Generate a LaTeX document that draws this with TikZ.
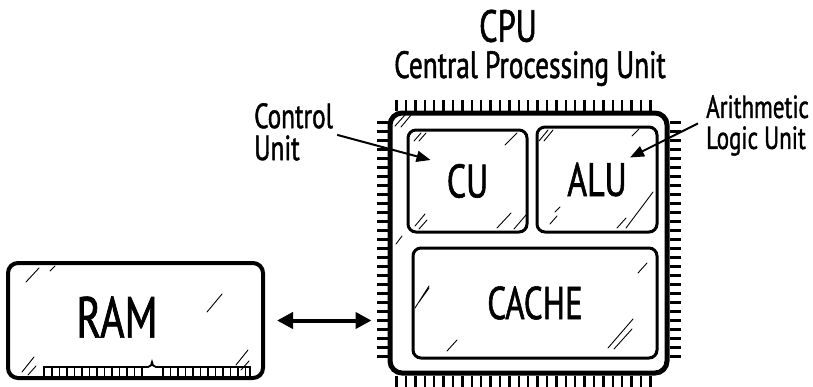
\documentclass[tikz,border=0pt]{standalone}
\usepackage{fontspec}
\setmainfont[FakeStretch=0.72,FakeBold=1.2]{PT Sans}
\usetikzlibrary{arrows.meta,positioning,calc}
\newcommand{\fsz}[2]{\fontsize{#1}{#2}\selectfont}

\begin{document}
\begin{tikzpicture}[x=1pt,y=-1pt,
  box/.style={draw,rounded corners=8pt,line width=3pt,inner sep=0pt},
  hatch/.style={line width=0.9pt,line cap=round},
  pin/.style={line width=2.4pt},
  lbl/.style={inner sep=0pt,align=left}]
\useasboundingbox (0,0) rectangle (813,386);
% boxes
\node[box,line width=5pt,rounded corners=12pt,minimum width=277pt,minimum height=260pt] (cpu) at (528.5,243) {};
\node[box,minimum width=119pt,minimum height=102pt,font=\fsz{47}{50}] (cu) at (467.5,181) {CU};
\node[box,minimum width=120pt,minimum height=105pt,font=\fsz{47}{50}] (alu) at (597,179.5) {ALU};
\node[box,minimum width=244pt,minimum height=110pt,font=\fsz{46}{50}] (cache) at (535,303) {CACHE};
\node[box,line width=4pt,rounded corners=10pt,minimum width=255pt,minimum height=115pt] (ram) at (135.5,320.5) {};
\node[inner sep=0pt,font=\fsz{58}{60}] (ramtxt) at (117,317) {RAM};
% pins of the cpu
\foreach \i in {0,...,27} {
  \draw[pin] ($(cpu.north west)+(9+9.4*\i,0)$) -- ++(0,-11);
  \draw[pin] ($(cpu.south west)+(9+9.4*\i,0)$) -- ++(0,11);
}
\foreach \i in {0,...,26} {
  \draw[pin] ($(cpu.north west)+(0,12+9*\i)$) -- ++(-11,0);
  \draw[pin] ($(cpu.north east)+(0,12+9*\i)$) -- ++(11,0);
}
% contacts of the ram
\draw[line width=1.8pt] (44,377) -- (44,367) -- (148,367) to[out=0,in=-90] (152,362) to[out=-90,in=180] (156,367) -- (250,367) -- (250,377);
\foreach \i in {0,...,12} {\draw[line width=1.5pt] (52+7.5*\i,367) -- ++(0,10);}
\foreach \i in {0,...,11} {\draw[line width=1.5pt] (163+7.5*\i,367) -- ++(0,10);}
% titles
\node[lbl,font=\fsz{45}{45}] (cputitle) at (508,26) {CPU};
\node[lbl,anchor=base,font=\fsz{38}{40}] (cpuname) at (530,78) {Central Processing Unit};
\node[lbl,anchor=north west,font=\fsz{35}{32}] (ctrl) at (254,103) {Control\\Unit};
\node[lbl,anchor=north west,font=\fsz{32}{31}] (arith) at (706,95) {Arithmetic\\Logic Unit};
% connectors
\draw[-{Triangle[length=14pt,width=11pt]},line width=2pt] ($(ctrl.east)+(4,3)$) -- ($(cu.center)+(-37,-21)$);
\draw[-{Triangle[length=14pt,width=11pt]},line width=2pt] ($(arith.west)+(-8,-2)$) -- ($(alu.center)+(33,-22)$);
\draw[{Triangle[length=16pt,width=16pt]}-{Triangle[length=16pt,width=16pt]},line width=4pt,shorten <=12pt,shorten >=16pt] (ram.east) -- (ram.east -| cpu.west);
% highlights
\draw[hatch] (395,126) -- ++(10,-11) (401,127) -- ++(10,-12);
\draw[hatch] (396,244) -- ++(6,-8);
\draw[hatch] (414,141) -- ++(7,-8) (419,141) -- ++(7,-8);
\draw[hatch] (505,145) -- ++(12,-12);
\draw[hatch] (415,226) -- ++(10,-12) (419,229) -- ++(8,-9);
\draw[hatch] (497,228) -- ++(14,-15) (514,229) -- ++(12,-14);
\draw[hatch] (539,141) -- ++(9,-11) (544,141) -- ++(9,-11);
\draw[hatch] (632,136) -- ++(7,-7);
\draw[hatch] (550,224) -- ++(7,-8) (555,212) -- ++(5,-5);
\draw[hatch] (617,228) -- ++(9,-10) (626,228) -- ++(27,-36);
\draw[hatch] (415,308) -- ++(14,-22) (419,302) -- ++(10,-14);
\draw[hatch] (638,273) -- ++(9,-10);
\draw[hatch] (447,351) -- ++(10,-11);
\draw[hatch] (608,348) -- ++(25,-29) (614,349) -- ++(18,-20);
\draw[hatch] (26,282) -- ++(13,-14) (50,271) -- ++(5,-5);
\draw[hatch] (207,312) -- ++(15,-18);
\draw[hatch] (22,372) -- ++(12,-15) (28,375) -- ++(8,-9);
\draw[hatch] (236,365) -- ++(12,-15) (241,370) -- ++(8,-9);
\end{tikzpicture}
\end{document}
